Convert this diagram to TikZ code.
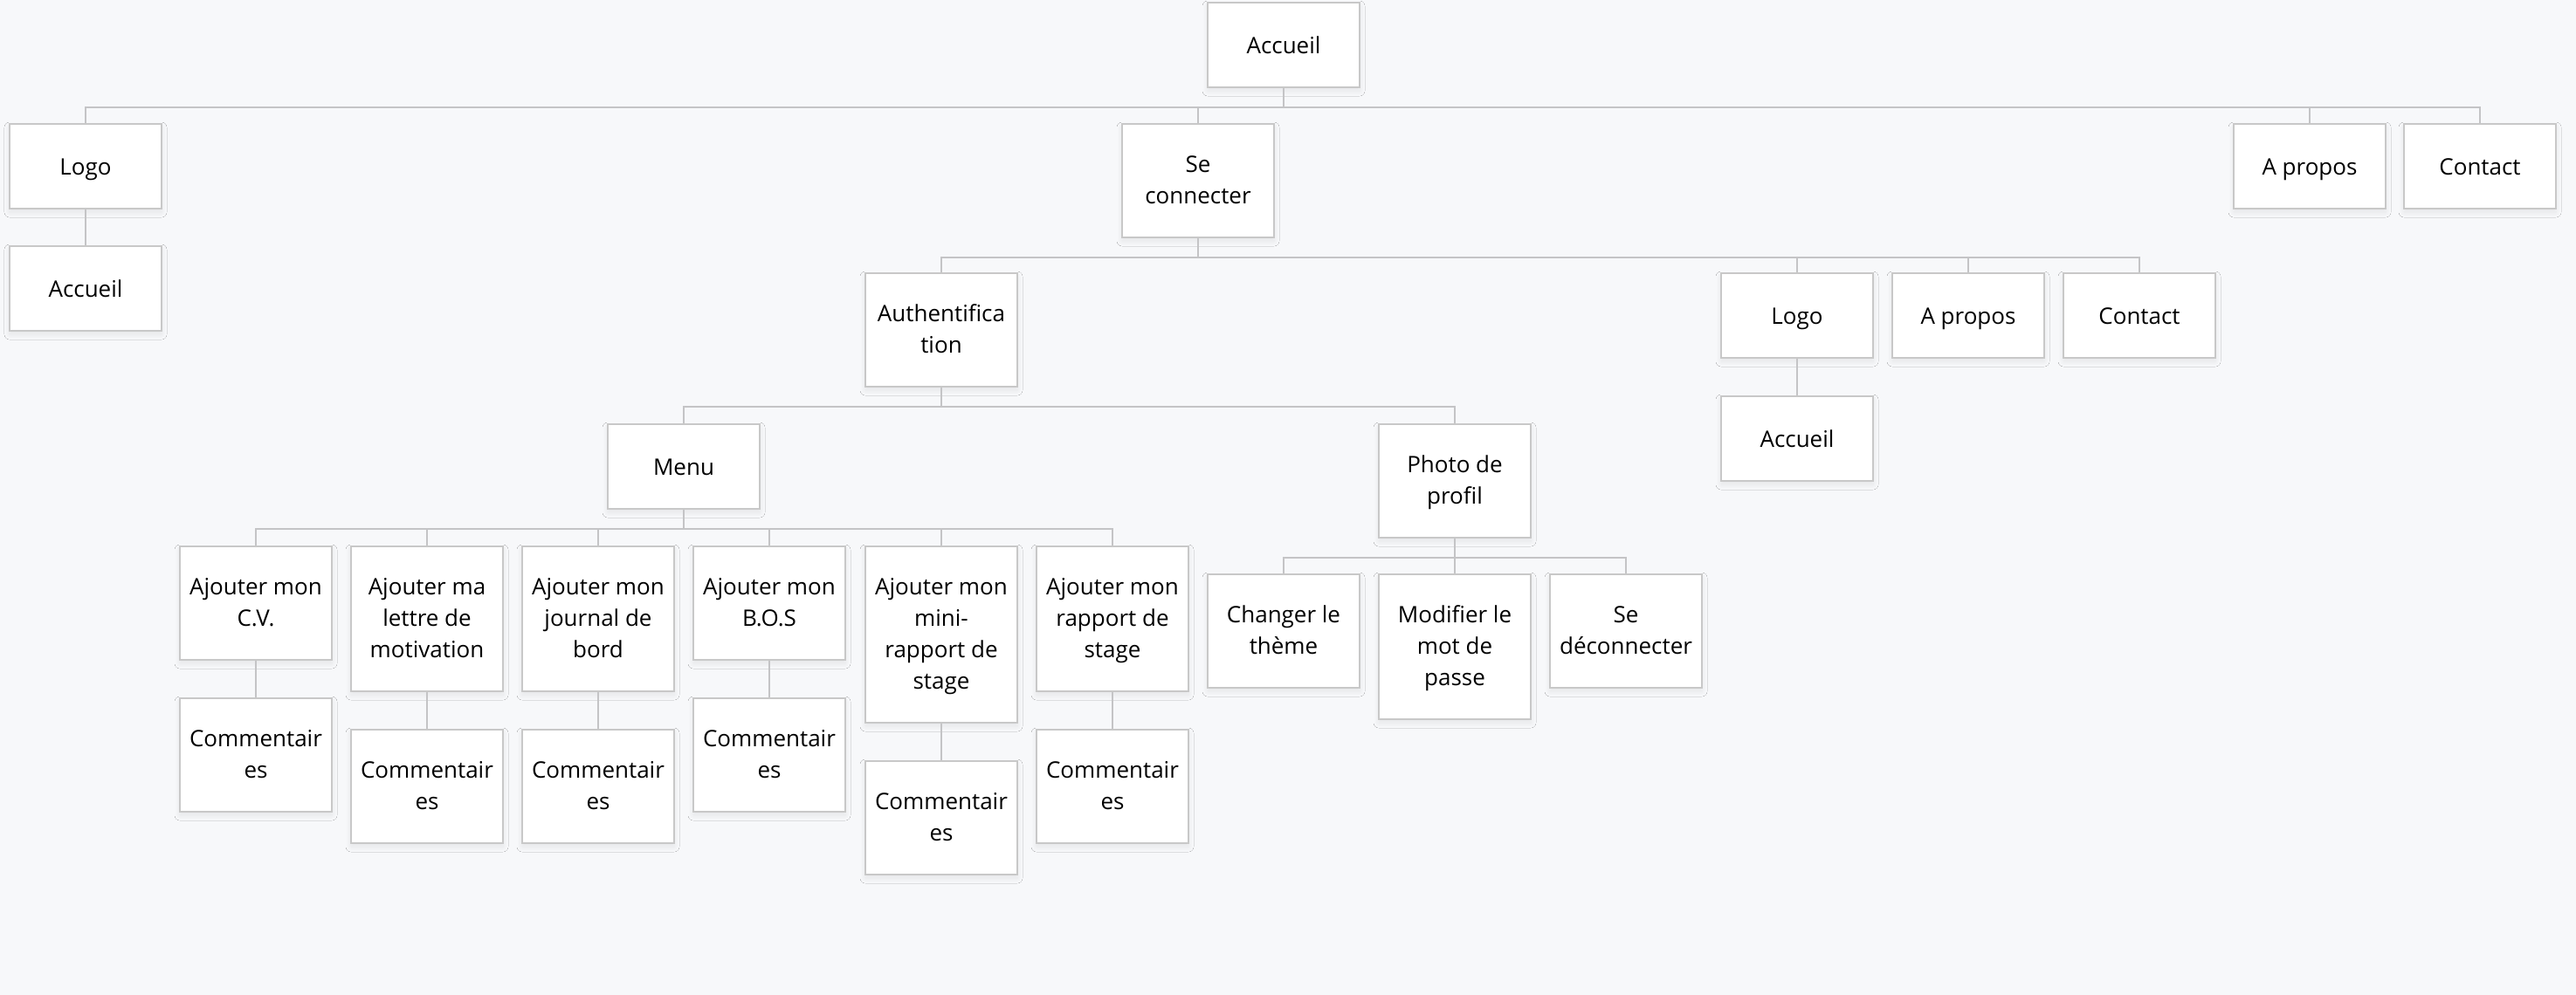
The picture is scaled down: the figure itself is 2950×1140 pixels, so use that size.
\documentclass[tikz,border=0pt]{standalone}
\usepackage{fontspec}
\setmainfont{Open Sans}
\usetikzlibrary{positioning,shadows.blur}

\definecolor{pagebg}{RGB}{247,248,250}
\definecolor{boxline}{RGB}{200,200,200}
\definecolor{linkline}{RGB}{196,196,198}

\tikzset{
	page/.style={draw=boxline, fill=white, line width=1pt, inner sep=0pt,
		minimum width=87pt, align=center, anchor=north,
		font=\fontsize{13}{18}\selectfont, text depth=3.6pt,
		blur shadow={shadow xshift=0pt, shadow yshift=-2pt, shadow blur radius=3pt, shadow blur steps=12, shadow opacity=8}},
	one/.style={minimum height=48.5pt, text height=14pt},
	two/.style={minimum height=65pt, text height=30pt},
	three/.style={minimum height=83pt, text height=48pt},
	four/.style={minimum height=101pt, text height=66pt},
	link/.style={draw=linkline, line width=0.75pt},
	node distance=21pt
}

\begin{document}
\begin{tikzpicture}[x=0.5pt,y=0.5pt,yscale=-1,xscale=1]
	\useasboundingbox (0,0) rectangle (2950,1140);
	\fill[pagebg] (0,0) rectangle (2950,1140);

	% Root
	\node[page,one] (root) at (1470,2) {Accueil};

	% Level 1
	\node[page,one] (logoA) at (98,141) {Logo};
	\node[page,two] (seco) at (1372,141) {Se\\connecter};
	\node[page,one] (aproposA) at (2645,141) {A propos};
	\node[page,one] (contactA) at (2840,141) {Contact};
	\node[page,one] (accueilA) at (98,281) {Accueil};

	% Level 2
	\node[page,two] (auth) at (1078,312) {Authentifica\\tion};
	\node[page,one] (logoB) at (2058,312) {Logo};
	\node[page,one] (aproposB) at (2254,312) {A propos};
	\node[page,one] (contactB) at (2450,312) {Contact};
	\node[page,one] (accueilB) at (2058,453) {Accueil};

	% Level 3
	\node[page,one] (menu) at (783,485) {Menu};
	\node[page,two] (photo) at (1666,485) {Photo de\\profil};

	% Menu entries
	\node[page,two] (cv) at (293,625) {Ajouter mon\\C.V.};
	\node[page,three] (lettre) at (489,625) {Ajouter ma\\lettre de\\motivation};
	\node[page,three] (journal) at (685,625) {Ajouter mon\\journal de\\bord};
	\node[page,two] (bos) at (881,625) {Ajouter mon\\B.O.S};
	\node[page,four] (mini) at (1078,625) {Ajouter mon\\mini-\\rapport de\\stage};
	\node[page,three] (rapport) at (1274,625) {Ajouter mon\\rapport de\\stage};

	% Comments
	\node[page,two,below=of cv] (cvcom) {Commentair\\es};
	\node[page,two,below=of lettre] (lettrecom) {Commentair\\es};
	\node[page,two,below=of journal] (journalcom) {Commentair\\es};
	\node[page,two,below=of bos] (boscom) {Commentair\\es};
	\node[page,two,below=of mini] (minicom) {Commentair\\es};
	\node[page,two,below=of rapport] (rapportcom) {Commentair\\es};

	% Profile entries
	\node[page,two] (theme) at (1470,657) {Changer le\\thème};
	\node[page,three] (mdp) at (1666,657) {Modifier le\\mot de\\passe};
	\node[page,two] (deco) at (1862,657) {Se\\déconnecter};

	% Links
	\draw[link] (root.south) -- ++(0,22) -| (logoA.north);
	\draw[link] (root.south) -- ++(0,22) -| (seco.north);
	\draw[link] (root.south) -- ++(0,22) -| (aproposA.north);
	\draw[link] (root.south) -- ++(0,22) -| (contactA.north);
	\draw[link] (logoA) -- (accueilA);

	\draw[link] (seco.south) -- ++(0,22) -| (auth.north);
	\draw[link] (seco.south) -- ++(0,22) -| (logoB.north);
	\draw[link] (seco.south) -- ++(0,22) -| (aproposB.north);
	\draw[link] (seco.south) -- ++(0,22) -| (contactB.north);
	\draw[link] (logoB) -- (accueilB);

	\draw[link] (auth.south) -- ++(0,22) -| (menu.north);
	\draw[link] (auth.south) -- ++(0,22) -| (photo.north);

	\draw[link] (menu.south) -- ++(0,22) -| (cv.north);
	\draw[link] (menu.south) -- ++(0,22) -| (lettre.north);
	\draw[link] (menu.south) -- ++(0,22) -| (journal.north);
	\draw[link] (menu.south) -- ++(0,22) -| (bos.north);
	\draw[link] (menu.south) -- ++(0,22) -| (mini.north);
	\draw[link] (menu.south) -- ++(0,22) -| (rapport.north);

	\draw[link] (cv) -- (cvcom);
	\draw[link] (lettre) -- (lettrecom);
	\draw[link] (journal) -- (journalcom);
	\draw[link] (bos) -- (boscom);
	\draw[link] (mini) -- (minicom);
	\draw[link] (rapport) -- (rapportcom);

	\draw[link] (photo.south) -- ++(0,22) -| (theme.north);
	\draw[link] (photo.south) -- ++(0,22) -| (mdp.north);
	\draw[link] (photo.south) -- ++(0,22) -| (deco.north);
\end{tikzpicture}
\end{document}
